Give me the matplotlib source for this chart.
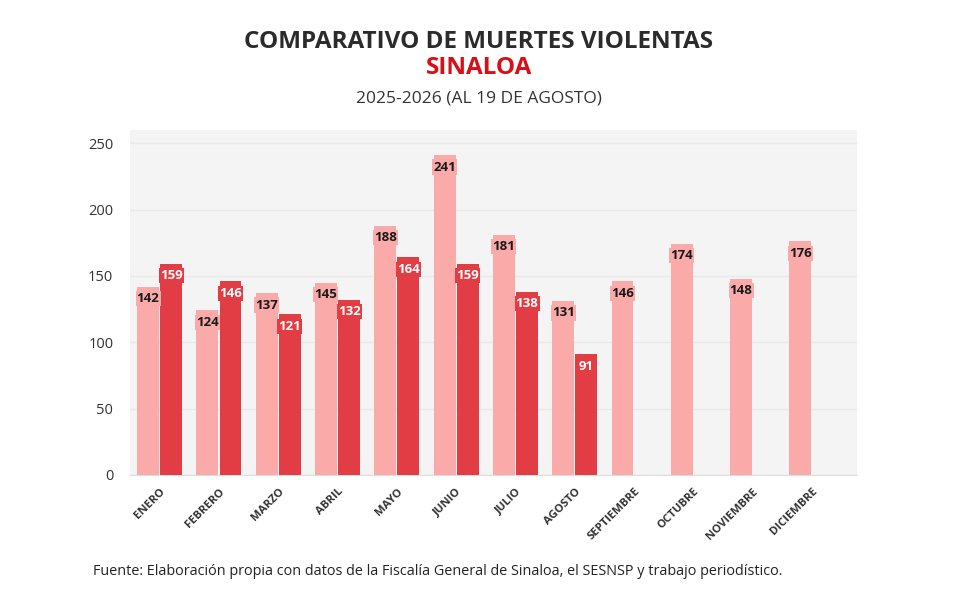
# Comparativo de muertes violentas en Sinaloa 2025-2026
import numpy as np
from matplotlib import pyplot as plt

plt.rcParams['font.family'] = ['Open Sans', 'DejaVu Sans']

meses = ['ENERO', 'FEBRERO', 'MARZO', 'ABRIL', 'MAYO', 'JUNIO', 'JULIO',
         'AGOSTO', 'SEPTIEMBRE', 'OCTUBRE', 'NOVIEMBRE', 'DICIEMBRE']
v2025 = [142, 124, 137, 145, 188, 241, 181, 131, 146, 174, 148, 176]
v2026 = [159, 146, 121, 132, 164, 159, 138, 91]

claro = '#f9aaa9'
oscuro = '#e23c44'

fig = plt.figure(figsize=(9.58, 6.05), dpi=100)
ax = fig.add_axes([0.1357, 0.2149, 0.7589, 0.5702])
ax.set_facecolor('#f4f4f4')

x = np.arange(len(meses))
w = 0.37
ax.bar(x - 0.195, v2025, width=w, color=claro, zorder=3)
x2 = x[:len(v2026)]
ax.bar(x2 + 0.195, v2026, width=w, color=oscuro, zorder=3)

for xi, v in zip(x, v2025):
    ax.text(xi - 0.195, v - 4, str(v), ha='center', va='top', fontsize=9.5,
            fontweight='bold', color='#1a1a1a', zorder=5,
            bbox=dict(boxstyle='square,pad=0.08', fc=claro, ec='none'))
for xi, v in zip(x2, v2026):
    ax.text(xi + 0.195, v - 4, str(v), ha='center', va='top', fontsize=9.5,
            fontweight='bold', color='white', zorder=5,
            bbox=dict(boxstyle='square,pad=0.08', fc=oscuro, ec='none'))

ax.set_xlim(-0.5, 11.76)
ax.set_ylim(0, 260)
ax.set_yticks([0, 50, 100, 150, 200, 250])
ax.yaxis.grid(True, color='#e9e9e9', linewidth=1, zorder=0)
ax.set_xticks(x)
ax.set_xticklabels(meses, rotation=45, ha='right', rotation_mode='anchor',
                   fontsize=8.2, fontweight='bold', color='#333333')
ax.tick_params(axis='x', length=0, pad=8)
ax.tick_params(axis='y', length=0, labelsize=10.5, labelcolor='#333333', pad=12)
for s in ['top', 'right', 'left']:
    ax.spines[s].set_visible(False)
ax.spines['bottom'].set_color('#dddddd')

fig.text(0.5, 0.931, 'COMPARATIVO DE MUERTES VIOLENTAS', ha='center', va='center',
         fontsize=17.5, fontweight='bold', color='#2b2b2b')
fig.text(0.5, 0.887, 'SINALOA', ha='center', va='center',
         fontsize=17.5, fontweight='bold', color='#d90f17')
fig.text(0.5, 0.837, '2025-2026 (AL 19 DE AGOSTO)', ha='center', va='center',
         fontsize=12.5, color='#333333')
fig.text(0.097, 0.056, 'Fuente: Elaboración propia con datos de la Fiscalía General de Sinaloa, '
         'el SESNSP y trabajo periodístico.', ha='left', va='center',
         fontsize=10.4, color='#222222')

plt.savefig('out.png', dpi=100)
